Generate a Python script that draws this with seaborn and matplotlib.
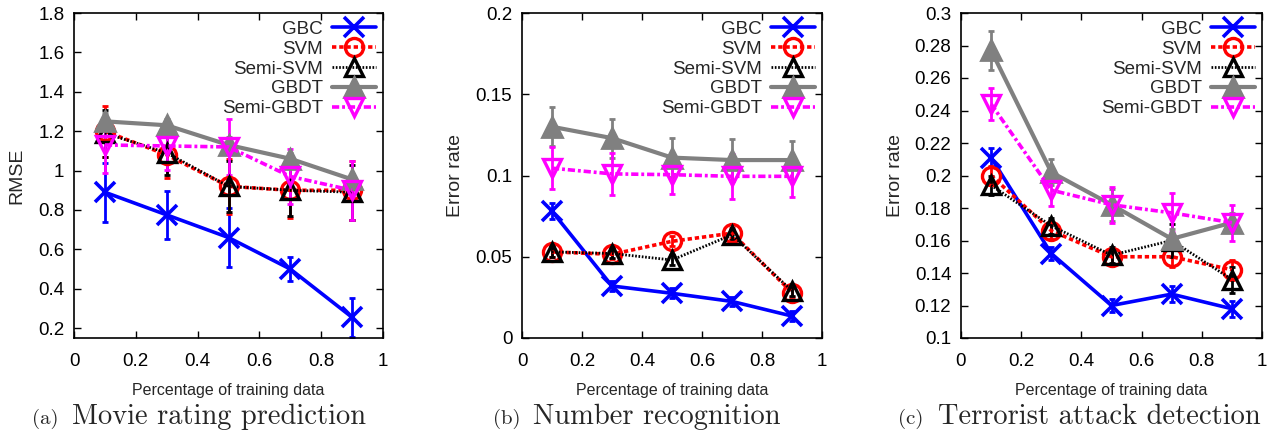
import numpy as np
import pandas as pd
import matplotlib
matplotlib.use("Agg")
import matplotlib.pyplot as plt
import seaborn as sns

# ---------------- data ----------------
x_train = [0.1, 0.3, 0.5, 0.7, 0.9]
methods = ["GBC", "SVM", "Semi-SVM", "GBDT", "Semi-GBDT"]

movie_gbc = [0.89, 0.775, 0.66, 0.50, 0.255]
movie_svm = [1.20, 1.08, 0.92, 0.90, 0.90]
movie_semisvm = [1.19, 1.09, 0.92, 0.90, 0.89]
movie_gbdt = [1.25, 1.23, 1.13, 1.06, 0.955]
movie_semigbdt = [1.13, 1.125, 1.12, 0.97, 0.90]
movie_gbc_err = [0.15, 0.12, 0.15, 0.06, 0.10]
movie_svm_err = [0.13, 0.12, 0.14, 0.14, 0.15]
movie_semisvm_err = [0.12, 0.11, 0.13, 0.13, 0.14]
movie_gbdt_err = [0.04, 0.03, 0.04, 0.03, 0.03]
movie_semigbdt_err = [0.14, 0.12, 0.14, 0.14, 0.15]

number_gbc = [0.078, 0.032, 0.0275, 0.0225, 0.0135]
number_svm = [0.053, 0.0515, 0.0595, 0.0645, 0.028]
number_semisvm = [0.053, 0.052, 0.048, 0.0635, 0.029]
number_gbdt = [0.130, 0.123, 0.111, 0.1095, 0.1095]
number_semigbdt = [0.1045, 0.101, 0.1005, 0.0995, 0.0995]
number_gbc_err = [0.005, 0.003, 0.003, 0.003, 0.003]
number_svm_err = [0.003, 0.003, 0.003, 0.003, 0.003]
number_semisvm_err = [0.003, 0.003, 0.003, 0.003, 0.003]
number_gbdt_err = [0.012, 0.012, 0.012, 0.013, 0.012]
number_semigbdt_err = [0.013, 0.013, 0.012, 0.014, 0.013]

terror_gbc = [0.211, 0.152, 0.120, 0.127, 0.118]
terror_svm = [0.200, 0.166, 0.150, 0.150, 0.142]
terror_semisvm = [0.194, 0.169, 0.151, 0.160, 0.136]
terror_gbdt = [0.277, 0.202, 0.182, 0.161, 0.171]
terror_semigbdt = [0.244, 0.191, 0.182, 0.177, 0.171]
terror_gbc_err = [0.006, 0.004, 0.004, 0.005, 0.005]
terror_svm_err = [0.006, 0.005, 0.005, 0.006, 0.006]
terror_semisvm_err = [0.006, 0.005, 0.005, 0.010, 0.008]
terror_gbdt_err = [0.012, 0.008, 0.010, 0.006, 0.006]
terror_semigbdt_err = [0.010, 0.010, 0.011, 0.012, 0.011]

panel_ylabels = ["RMSE", "Error rate", "Error rate"]
panel_letters = ["(a)", "(b)", "(c)"]
panel_titles = ["Movie rating prediction", "Number recognition", "Terrorist attack detection"]
xlabel_text = "Percentage of training data"

# ---------------- style ----------------
sns.set_style("ticks")
SANS = ["Liberation Sans Narrow", "Liberation Sans", "DejaVu Sans"]
plt.rcParams["font.family"] = SANS

styles = {
    "GBC": dict(color="#0000ff", marker="x", linestyle="-", mfc="#0000ff", ms=14, mew=2.6, lw=2.6),
    "SVM": dict(color="#ff0000", marker="o", linestyle=(0, (1.2, 0.8)), mfc="none", ms=13, mew=2.4, lw=2.6),
    "Semi-SVM": dict(color="#000000", marker="^", linestyle=(0, (0.6, 0.6)), mfc="none", ms=13, mew=2.4, lw=2.0),
    "GBDT": dict(color="#808080", marker="^", linestyle="-", mfc="#808080", ms=15, mew=2.0, lw=3.0),
    "Semi-GBDT": dict(color="#ff00ff", marker="v", linestyle=(0, (2.0, 0.8, 0.8, 0.8)), mfc="none", ms=13, mew=2.4, lw=2.6),
}

panels = [
    dict(vals=[movie_gbc, movie_svm, movie_semisvm, movie_gbdt, movie_semigbdt],
         errs=[movie_gbc_err, movie_svm_err, movie_semisvm_err, movie_gbdt_err, movie_semigbdt_err],
         ylim=(0.15, 1.8), yticks=[0.2, 0.4, 0.6, 0.8, 1.0, 1.2, 1.4, 1.6, 1.8]),
    dict(vals=[number_gbc, number_svm, number_semisvm, number_gbdt, number_semigbdt],
         errs=[number_gbc_err, number_svm_err, number_semisvm_err, number_gbdt_err, number_semigbdt_err],
         ylim=(0.0, 0.2), yticks=[0.0, 0.05, 0.1, 0.15, 0.2]),
    dict(vals=[terror_gbc, terror_svm, terror_semisvm, terror_gbdt, terror_semigbdt],
         errs=[terror_gbc_err, terror_svm_err, terror_semisvm_err, terror_gbdt_err, terror_semigbdt_err],
         ylim=(0.1, 0.3), yticks=[0.1, 0.12, 0.14, 0.16, 0.18, 0.2, 0.22, 0.24, 0.26, 0.28, 0.3]),
]

W, H = 1268, 432
fig = plt.figure(figsize=(W / 100, H / 100), dpi=100)

# axes boxes in pixels: left, right, top, bottom
boxes = [(74, 383, 13, 338), (522, 822, 13, 338), (961, 1262, 13, 338)]
ylabel_x = [17, 456, 895]

for i, (p, box) in enumerate(zip(panels, boxes)):
    l, r, t, b = box
    ax = fig.add_axes([l / W, (H - b) / H, (r - l) / W, (b - t) / H])
    for name, vals, errs in zip(methods, p["vals"], p["errs"]):
        st = styles[name]
        ax.errorbar(x_train, vals, yerr=errs, fmt="none", ecolor=st["color"],
                    elinewidth=2.0, capsize=2.5, capthick=2.0, zorder=2)
        df = pd.DataFrame({"x": x_train, "y": vals})
        sns.lineplot(data=df, x="x", y="y", ax=ax, color=st["color"], marker=st["marker"],
                     linestyle=st["linestyle"], markerfacecolor=st["mfc"],
                     markeredgecolor=st["color"], markersize=st["ms"], markeredgewidth=st["mew"],
                     linewidth=st["lw"], label=name, zorder=3)
    ax.set_xlim(0, 1)
    ax.set_ylim(*p["ylim"])
    ax.set_xticks([0, 0.2, 0.4, 0.6, 0.8, 1.0])
    ax.set_xticklabels(["0", "0.2", "0.4", "0.6", "0.8", "1"])
    ax.set_yticks(p["yticks"])
    ax.set_yticklabels(["%g" % v for v in p["yticks"]])
    ax.tick_params(direction="in", length=5, width=1.0, top=True, right=True,
                   labelsize=13.5, colors="black")
    ax.tick_params(axis="x", pad=11)
    ax.tick_params(axis="y", pad=7)
    for sp in ax.spines.values():
        sp.set_linewidth(1.2)
        sp.set_color("black")
        sp.set_visible(True)
    ax.set_xlabel("")
    ax.set_ylabel("")
    fig.text(((l + r) / 2) / W, 1 - 390 / H, xlabel_text, ha="center", va="center",
             fontsize=11.5, family=SANS)
    fig.text(ylabel_x[i] / W, 1 - ((t + b) / 2) / H, panel_ylabels[i], ha="center", va="center",
             rotation=90, fontsize=14, family=SANS)
    leg = ax.legend(loc="upper right", frameon=False, markerfirst=False, fontsize=13.5,
                    handlelength=2.3, labelspacing=0.15, borderaxespad=0.1, handletextpad=0.5,
                    borderpad=0.3, alignment="right")
    for txt in leg.get_texts():
        txt.set_ha("right")

# captions
cap_letters_x = [32, 493, 898]
cap_titles_x = [72, 533, 938]
for i in range(3):
    fig.text(cap_letters_x[i] / W, 1 - 419 / H, panel_letters[i], ha="left", va="center",
             fontsize=15, family="cmr10")
    fig.text(cap_titles_x[i] / W, 1 - 417 / H, panel_titles[i], ha="left", va="center",
             fontsize=20.5, family="cmr10")

fig.savefig("out.png", dpi=100)
